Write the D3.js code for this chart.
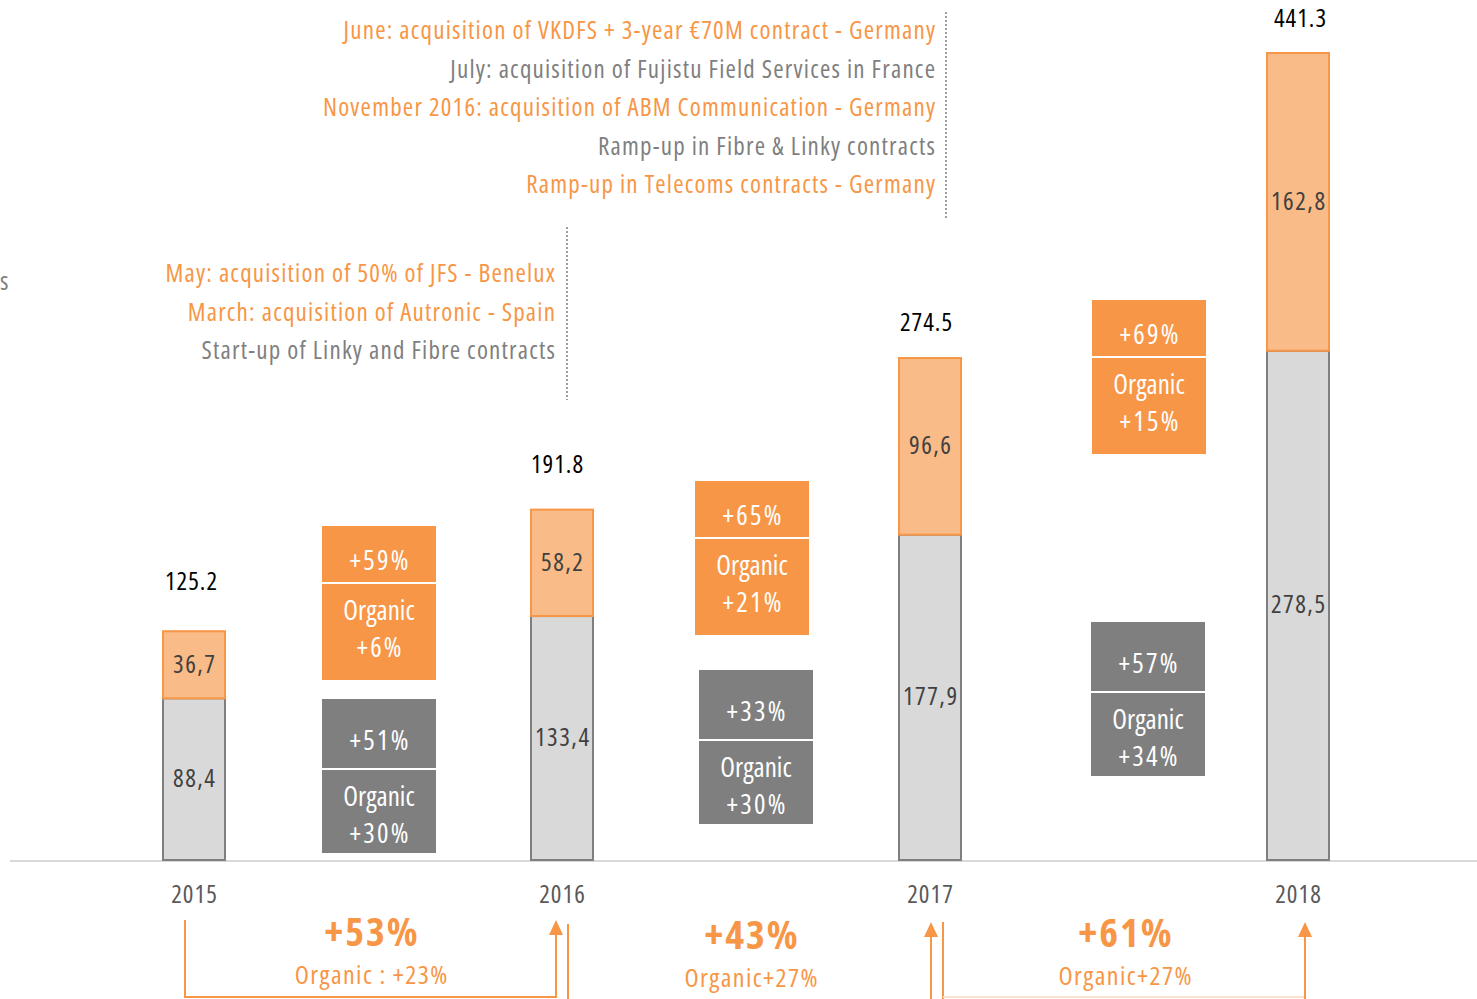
<!DOCTYPE html>
<html>
<head>
<meta charset="utf-8">
<script src="https://cdn.jsdelivr.net/npm/d3@7"></script>
<style>
  html, body { margin: 0; padding: 0; background: #ffffff; }
  svg { display: block; }
  text { font-family: "Open Sans", "DejaVu Sans Condensed", sans-serif; font-stretch: 75%; }
</style>
</head>
<body>
<svg id="chart" width="1477" height="999"></svg>
<script>
// ---------------- data ----------------
const years = ["2015", "2016", "2017", "2018"];
const organicValues = [88.4, 133.4, 177.9, 278.5];
const acquisitionValues = [36.7, 58.2, 96.6, 162.8];
const totalLabels = ["125.2", "191.8", "274.5", "441.3"];
const organicLabels = ["88,4", "133,4", "177,9", "278,5"];
const acquisitionLabels = ["36,7", "58,2", "96,6", "162,8"];

const acqGrowth = ["+59%", "+65%", "+69%"];
const acqGrowthOrganic = ["+6%", "+21%", "+15%"];
const orgGrowth = ["+51%", "+33%", "+57%"];
const orgGrowthOrganic = ["+30%", "+30%", "+34%"];
const totalGrowth = ["+53%", "+43%", "+61%"];
const totalGrowthOrganic = ["Organic : +23%", "Organic+27%", "Organic+27%"];

const notesTop = [
  ["June: acquisition of VKDFS + 3-year €70M contract - Germany", "acq"],
  ["July: acquisition of Fujistu Field Services in France", "org"],
  ["November 2016: acquisition of ABM Communication - Germany", "acq"],
  ["Ramp-up in Fibre & Linky contracts", "org"],
  ["Ramp-up in Telecoms contracts - Germany", "acq"]
];
const notesMid = [
  ["May: acquisition of 50% of JFS - Benelux", "acq"],
  ["March: acquisition of Autronic - Spain", "acq"],
  ["Start-up of Linky and Fibre contracts", "org"]
];

// ---------------- style ----------------
const ORANGE = "#f79646", ORANGE_LIGHT = "#f9bb87", GREY = "#7f7f7f", GREY_LIGHT = "#d9d9d9";
const noteColor = { acq: ORANGE, org: GREY };

const svg = d3.select("#chart");

const x = d3.scaleBand().domain(years).range([10, 1482]).paddingInner(0.8315).paddingOuter(0.8315 / 2);
const y = d3.scaleLinear().domain([0, 441.3]).range([860, 53]);

svg.append("line").attr("x1", 10).attr("x2", 1477).attr("y1", y(0) + 1).attr("y2", y(0) + 1)
  .attr("stroke", "#d9d9d9").attr("stroke-width", 2);

const rows = years.map((yr, i) => ({ yr, org: organicValues[i], acq: acquisitionValues[i], i }));

svg.selectAll("rect.org").data(rows).join("rect").attr("class", "org")
  .attr("x", d => x(d.yr)).attr("width", x.bandwidth())
  .attr("y", d => y(d.org)).attr("height", d => y(0) - y(d.org))
  .attr("fill", GREY_LIGHT).attr("stroke", GREY).attr("stroke-width", 2);

svg.selectAll("rect.acq").data(rows).join("rect").attr("class", "acq")
  .attr("x", d => x(d.yr)).attr("width", x.bandwidth())
  .attr("y", d => y(d.org + d.acq)).attr("height", d => y(d.org) - y(d.org + d.acq))
  .attr("fill", ORANGE_LIGHT).attr("stroke", ORANGE).attr("stroke-width", 2);

const cx = yr => x(yr) + x.bandwidth() / 2;

function label(sel, ls) {
  return sel.attr("text-anchor", "middle").attr("dominant-baseline", "central")
    .attr("letter-spacing", ls).attr("dx", ls / 2);
}

label(svg.selectAll("text.orgLbl").data(rows).join("text"), 1.5)
  .attr("x", d => cx(d.yr)).attr("y", d => (y(0) + y(d.org)) / 2 - 2)
  .attr("font-size", 25).attr("fill", "#404040").text(d => organicLabels[d.i]);
label(svg.selectAll("text.acqLbl").data(rows).join("text"), 1.5)
  .attr("x", d => cx(d.yr)).attr("y", d => (y(d.org) + y(d.org + d.acq)) / 2 - 2)
  .attr("font-size", 25).attr("fill", "#404040").text(d => acquisitionLabels[d.i]);

const totalOffset = [51, 47, 37, 36];
const totalDx = [-3, -5, -4, 2];
label(svg.selectAll("text.tot").data(rows).join("text"), 1)
  .attr("x", d => cx(d.yr) + totalDx[d.i]).attr("y", d => y(d.org + d.acq) - totalOffset[d.i])
  .attr("font-size", 25).attr("fill", "#000").text(d => totalLabels[d.i]);

label(svg.selectAll("text.yr").data(rows).join("text"), 1)
  .attr("x", d => cx(d.yr)).attr("y", 893)
  .attr("font-size", 25).attr("fill", "#595959").text(d => d.yr);

// growth boxes (layout)
const boxW = 114;
const acqBoxLayout = [{ x: 322, y: 526 }, { x: 695, y: 481 }, { x: 1092, y: 300 }];
const orgBoxLayout = [{ x: 322, y: 699 }, { x: 699, y: 670 }, { x: 1091, y: 622 }];
function drawBox(pos, color, top, bottom) {
  const g = svg.append("g");
  const div = pos.y + 57 + (color === GREY ? 13 : 0);
  g.append("rect").attr("x", pos.x).attr("y", pos.y).attr("width", boxW).attr("height", 154).attr("fill", color);
  g.append("line").attr("x1", pos.x).attr("x2", pos.x + boxW).attr("y1", div).attr("y2", div)
    .attr("stroke", "#fff").attr("stroke-width", 2);
  const mx = pos.x + boxW / 2;
  label(g.append("text"), 2.2).attr("x", mx).attr("y", (pos.y + div) / 2 + 5)
    .attr("font-size", 27).attr("fill", "#fff").text(top);
  label(g.append("text"), 0).attr("x", mx).attr("y", div + 26)
    .attr("font-size", 27).attr("fill", "#fff").text("Organic");
  label(g.append("text"), 2.2).attr("x", mx).attr("y", div + 63)
    .attr("font-size", 27).attr("fill", "#fff").text(bottom);
}
acqBoxLayout.forEach((p, i) => drawBox(p, ORANGE, acqGrowth[i], acqGrowthOrganic[i]));
orgBoxLayout.forEach((p, i) => drawBox(p, GREY, orgGrowth[i], orgGrowthOrganic[i]));

function drawNotes(list, rightX, y0, step, lineX, ly0, ly1) {
  list.forEach((n, i) => {
    svg.append("text").attr("x", rightX + 1.2).attr("y", y0 + i * step)
      .attr("text-anchor", "end").attr("dominant-baseline", "central").attr("letter-spacing", 1.2)
      .attr("font-size", 25).attr("fill", noteColor[n[1]]).text(n[0]);
  });
  svg.append("line").attr("x1", lineX).attr("x2", lineX).attr("y1", ly0).attr("y2", ly1)
    .attr("stroke", GREY).attr("stroke-width", 1.5).attr("stroke-dasharray", "2,2");
}
drawNotes(notesTop, 935, 29, 38.5, 946, 12, 220);
drawNotes(notesMid, 555, 272, 38.5, 567, 227, 400);

svg.append("text").attr("x", 0).attr("y", 280).attr("dominant-baseline", "central")
  .attr("font-size", 25).attr("fill", GREY).text("s");

const growthCenters = [371, 751, 1125];
totalGrowth.forEach((t, i) => {
  const dy = i === 1 ? 3 : i === 2 ? 1 : 0;
  label(svg.append("text"), 2).attr("x", growthCenters[i]).attr("y", 930 + dy)
    .attr("font-size", 40).attr("font-weight", "bold").attr("fill", ORANGE).text(t);
  label(svg.append("text"), 1.4).attr("x", growthCenters[i]).attr("y", 974 + dy)
    .attr("font-size", 26).attr("fill", ORANGE).text(totalGrowthOrganic[i]);
});

function arrowHead(xh, yh) {
  svg.append("path").attr("d", `M${xh},${yh} L${xh - 7},${yh + 15} L${xh + 7},${yh + 15} Z`).attr("fill", ORANGE);
}
svg.append("path").attr("d", "M185,920 V997 H556 V930").attr("fill", "none").attr("stroke", ORANGE).attr("stroke-width", 2);
arrowHead(556, 920);
svg.append("line").attr("x1", 568).attr("x2", 568).attr("y1", 924).attr("y2", 999).attr("stroke", ORANGE).attr("stroke-width", 2);
svg.append("line").attr("x1", 931).attr("x2", 931).attr("y1", 932).attr("y2", 999).attr("stroke", ORANGE).attr("stroke-width", 2);
arrowHead(931, 922);
svg.append("line").attr("x1", 943).attr("x2", 943).attr("y1", 922).attr("y2", 999).attr("stroke", ORANGE).attr("stroke-width", 2);
svg.append("line").attr("x1", 943).attr("x2", 1305).attr("y1", 997).attr("y2", 997).attr("stroke", "#fde3cf").attr("stroke-width", 2);
svg.append("line").attr("x1", 1305).attr("x2", 1305).attr("y1", 932).attr("y2", 999).attr("stroke", ORANGE).attr("stroke-width", 2);
arrowHead(1305, 922);
</script>
</body>
</html>
